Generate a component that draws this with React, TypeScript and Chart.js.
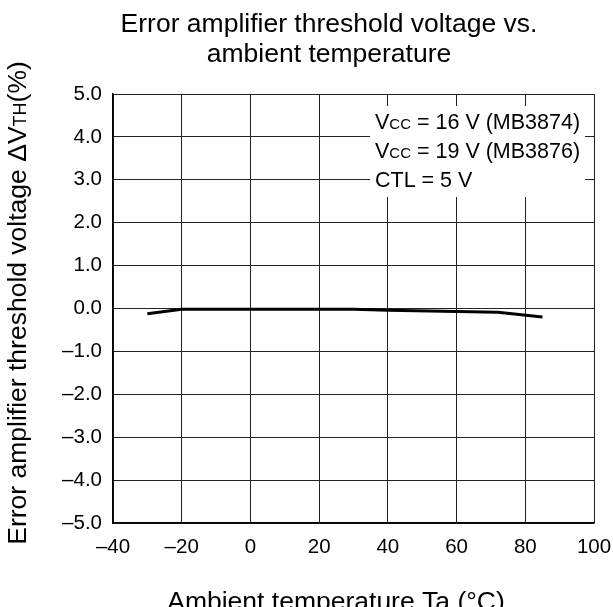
import { useEffect, useRef } from "react";
import { Chart, registerables } from "chart.js";

Chart.register(...registerables);

// ---- data ----
const temperatures = [-30, -20, 0, 20, 30, 40, 60, 72, 85];
const deltaVth = [-0.12, -0.02, -0.02, -0.02, -0.02, -0.04, -0.07, -0.09, -0.2];
const xTickValues = [-40, -20, 0, 20, 40, 60, 80, 100];
const yTickValues = [-5, -4, -3, -2, -1, 0, 1, 2, 3, 4, 5];
const titleLines = ["Error amplifier threshold voltage vs.", "ambient temperature"];
const xTitle = "Ambient temperature Ta (\u00B0C)";
// segments: [text, isSmall]
const yTitleSegments: [string, boolean][] = [
  ["Error amplifier threshold voltage \u0394V", false],
  ["TH", true],
  ["(%)", false],
];
const noteLines: [string, boolean][][] = [
  [["V", false], ["CC", true], [" = 16 V (MB3874)", false]],
  [["V", false], ["CC", true], [" = 19 V (MB3876)", false]],
  [["CTL = 5 V", false]],
];

const FONT = '"Liberation Sans", Arial, Helvetica, sans-serif';

const fmt = (v: number, digits: number) => {
  const s = Math.abs(v).toFixed(digits);
  return v < 0 ? "\u2013" + s : s;
};

function drawSegments(
  ctx: CanvasRenderingContext2D,
  segs: [string, boolean][],
  x: number,
  y: number,
  big: number,
  small: number
) {
  let cx = x;
  for (const [t, isSmall] of segs) {
    ctx.font = `${isSmall ? small : big}px ${FONT}`;
    ctx.fillText(t, cx, y);
    cx += ctx.measureText(t).width;
  }
  return cx - x;
}

function segWidth(ctx: CanvasRenderingContext2D, segs: [string, boolean][], big: number, small: number) {
  let w = 0;
  for (const [t, isSmall] of segs) {
    ctx.font = `${isSmall ? small : big}px ${FONT}`;
    w += ctx.measureText(t).width;
  }
  return w;
}

const textPlugin = {
  id: "textPlugin",
  afterDraw(chart: Chart) {
    const ctx = chart.ctx;
    const area = chart.chartArea;
    ctx.save();
    ctx.fillStyle = "#000";
    ctx.textBaseline = "alphabetic";

    // title
    ctx.textAlign = "center";
    ctx.font = `26.5px ${FONT}`;
    const tcx = area.left + 216;
    ctx.fillText(titleLines[0], tcx, 32);
    ctx.fillText(titleLines[1], tcx, 62);

    // x title
    ctx.fillText(xTitle, area.left + 223, 610);

    // y title (rotated)
    ctx.textAlign = "left";
    const yw = segWidth(ctx, yTitleSegments, 26.5, 18);
    ctx.translate(26, 303);
    ctx.rotate(-Math.PI / 2);
    drawSegments(ctx, yTitleSegments, -yw / 2, 0, 26.5, 18);
    ctx.setTransform(1, 0, 0, 1, 0, 0);
    ctx.restore();

    // note box
    ctx.save();
    const bx = area.left + 257;
    const by = area.top + 12;
    ctx.fillStyle = "#fff";
    ctx.fillRect(bx, by, 215, 91);
    ctx.fillStyle = "#000";
    ctx.textAlign = "left";
    noteLines.forEach((segs, i) => {
      drawSegments(ctx, segs, bx + 5, by + 23 + i * 29, 21.5, 15);
    });
    ctx.restore();
  },
};

export default function App() {
  const ref = useRef<HTMLCanvasElement | null>(null);

  useEffect(() => {
    document.body.style.margin = "0";
    const canvas = ref.current;
    if (!canvas) return;
    const chart = new Chart(canvas, {
      type: "line",
      data: {
        datasets: [
          {
            data: temperatures.map((t, i) => ({ x: t, y: deltaVth[i] })),
            borderColor: "#000",
            borderWidth: 3,
            pointRadius: 0,
            tension: 0,
            fill: false,
          },
        ],
      },
      options: {
        animation: false,
        responsive: false,
        maintainAspectRatio: false,
        layout: { padding: { top: 94, right: 19, left: 0, bottom: 0 } },
        plugins: {
          legend: { display: false },
          title: { display: false },
          tooltip: { enabled: false },
        },
        scales: {
          x: {
            type: "linear",
            min: -40,
            max: 100,
            afterBuildTicks: (scale: any) => {
              scale.ticks = xTickValues.map((v) => ({ value: v }));
            },
            afterFit: (scale: any) => {
              scale.height = 84;
              scale.paddingLeft = 0;
              scale.paddingRight = 0;
            },
            ticks: {
              color: "#000",
              font: { family: FONT, size: 20.5 },
              padding: 12,
              maxRotation: 0,
              callback: (v: any) => fmt(Number(v), 0),
            },
            grid: { color: "#222", lineWidth: 1, drawTicks: false },
            border: { color: "#000", width: 1.5 },
          },
          y: {
            type: "linear",
            min: -5,
            max: 5,
            afterBuildTicks: (scale: any) => {
              scale.ticks = yTickValues.map((v) => ({ value: v }));
            },
            afterFit: (scale: any) => {
              scale.width = 113;
              scale.paddingTop = 0;
              scale.paddingBottom = 0;
            },
            ticks: {
              color: "#000",
              font: { family: FONT, size: 20.5 },
              padding: 11,
              callback: (v: any) => fmt(Number(v), 1),
            },
            grid: { color: "#222", lineWidth: 1, drawTicks: false },
            border: { color: "#000", width: 1.5 },
          },
        },
      },
      plugins: [textPlugin],
    });
    return () => chart.destroy();
  }, []);

  return (
    <div style={{ position: "relative", width: 613, height: 607, background: "#fff" }}>
      <canvas ref={ref} width={613} height={607} style={{ display: "block", width: 613, height: 607 }} />
    </div>
  );
}
